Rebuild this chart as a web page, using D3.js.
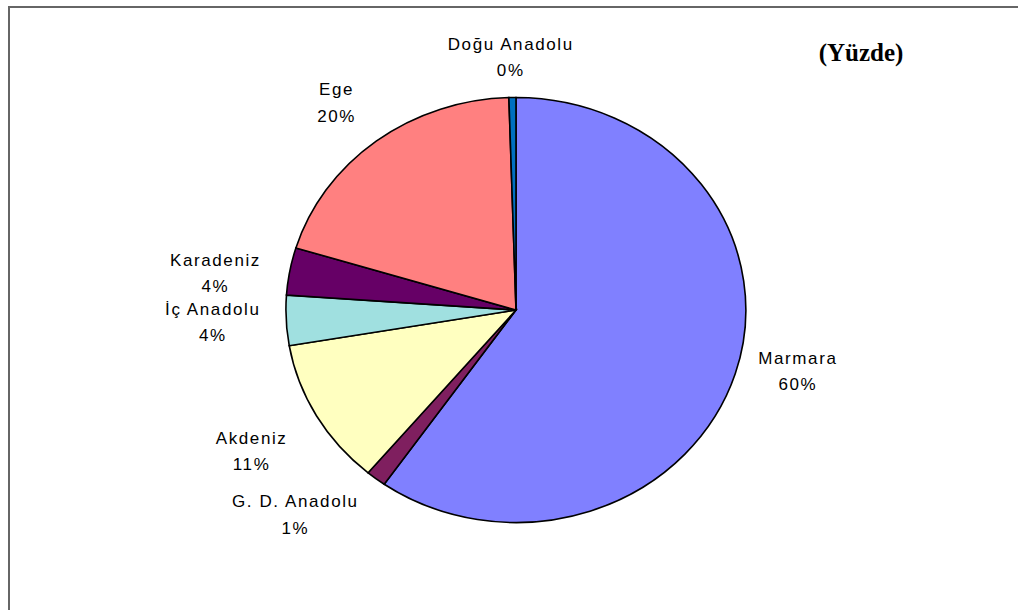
<!DOCTYPE html>
<html>
<head>
<meta charset="utf-8">
<script src="https://cdn.jsdelivr.net/npm/d3@7"></script>
<style>
  html, body { margin: 0; padding: 0; background: #fff; }
  svg { display: block; }
</style>
</head>
<body>
<svg id="chart" width="1018" height="610"></svg>
<script>
// Regional shares (percent), clockwise from 12 o'clock
const regions = ["Marmara", "G. D. Anadolu", "Akdeniz", "İç Anadolu", "Karadeniz", "Ege", "Doğu Anadolu"];
const shares  = [59.7, 1.4, 11.2, 3.8, 3.6, 19.8, 0.49];
const colors  = ["#8080FF", "#7F1F5F", "#FFFFC0", "#A0E0E0", "#660066", "#FF8080", "#0070C0"];
const title = "(Yüzde)";

const data = regions.map((name, i) => ({ name, value: shares[i], color: colors[i] }));

const svg = d3.select("#chart");
const W = 1018, H = 610;

// chart frame (left and top edges are visible)
svg.append("path")
  .attr("d", `M9,${H} V7 H${W}`)
  .attr("fill", "none")
  .attr("stroke", "#666")
  .attr("stroke-width", 2);

// Pie geometry: circle of unit radius stretched to an ellipse
const cx = 516, cy = 310, rx = 230, ry = 212.5;

const pie = d3.pie().sort(null).value(d => d.value).startAngle(0).endAngle(2 * Math.PI);
const arcs = pie(data);
const arc = d3.arc().innerRadius(0).outerRadius(1);

const g = svg.append("g").attr("transform", `translate(${cx},${cy}) scale(${rx},${ry})`);
g.selectAll("path.slice")
  .data(arcs)
  .enter().append("path")
  .attr("class", "slice")
  .attr("d", arc)
  .attr("fill", d => d.data.color)
  .attr("stroke", "#000")
  .attr("stroke-width", 1.6)
  .attr("vector-effect", "non-scaling-stroke");

// Label placement: radial factor and nudges relative to each slice's mid-angle
const labelLayout = {
  "Marmara":       { r: 1.18, dx: 23,  dy: -18 },
  "G. D. Anadolu": { r: 1.22, dx: -50, dy: -5 },
  "Akdeniz":       { r: 1.20, dx: -25, dy: 10 },
  "İç Anadolu":    { r: 1.32, dx: 0,   dy: -6 },
  "Karadeniz":     { r: 1.32, dx: -2,  dy: 10 },
  "Ege":           { r: 1.27, dx: -2,  dy: 3 },
  "Doğu Anadolu":  { r: 1.20, dx: -1,  dy: -2 }
};

const fmt = v => Math.round(v) + "%";
const labels = svg.append("g")
  .attr("font-family", "'Liberation Sans', Arial, sans-serif")
  .attr("font-size", 17)
  .attr("letter-spacing", 1.6)
  .attr("fill", "#000")
  .attr("text-anchor", "middle");

arcs.forEach(d => {
  const L = labelLayout[d.data.name];
  const mid = (d.startAngle + d.endAngle) / 2;
  const x = cx + Math.sin(mid) * rx * L.r + L.dx;
  const y = cy - Math.cos(mid) * ry * L.r + L.dy;
  const t = labels.append("text").attr("x", x).attr("y", y);
  t.append("tspan").attr("x", x).attr("dy", "-0.2em").text(d.data.name);
  t.append("tspan").attr("x", x).attr("dy", "1.55em").text(fmt(d.data.value));
});

// unit note
svg.append("text")
  .attr("x", 861).attr("y", 61)
  .attr("text-anchor", "middle")
  .attr("font-family", "'Liberation Serif', 'Times New Roman', serif")
  .attr("font-weight", "bold")
  .attr("font-size", 25)
  .text(title);
</script>
</body>
</html>
